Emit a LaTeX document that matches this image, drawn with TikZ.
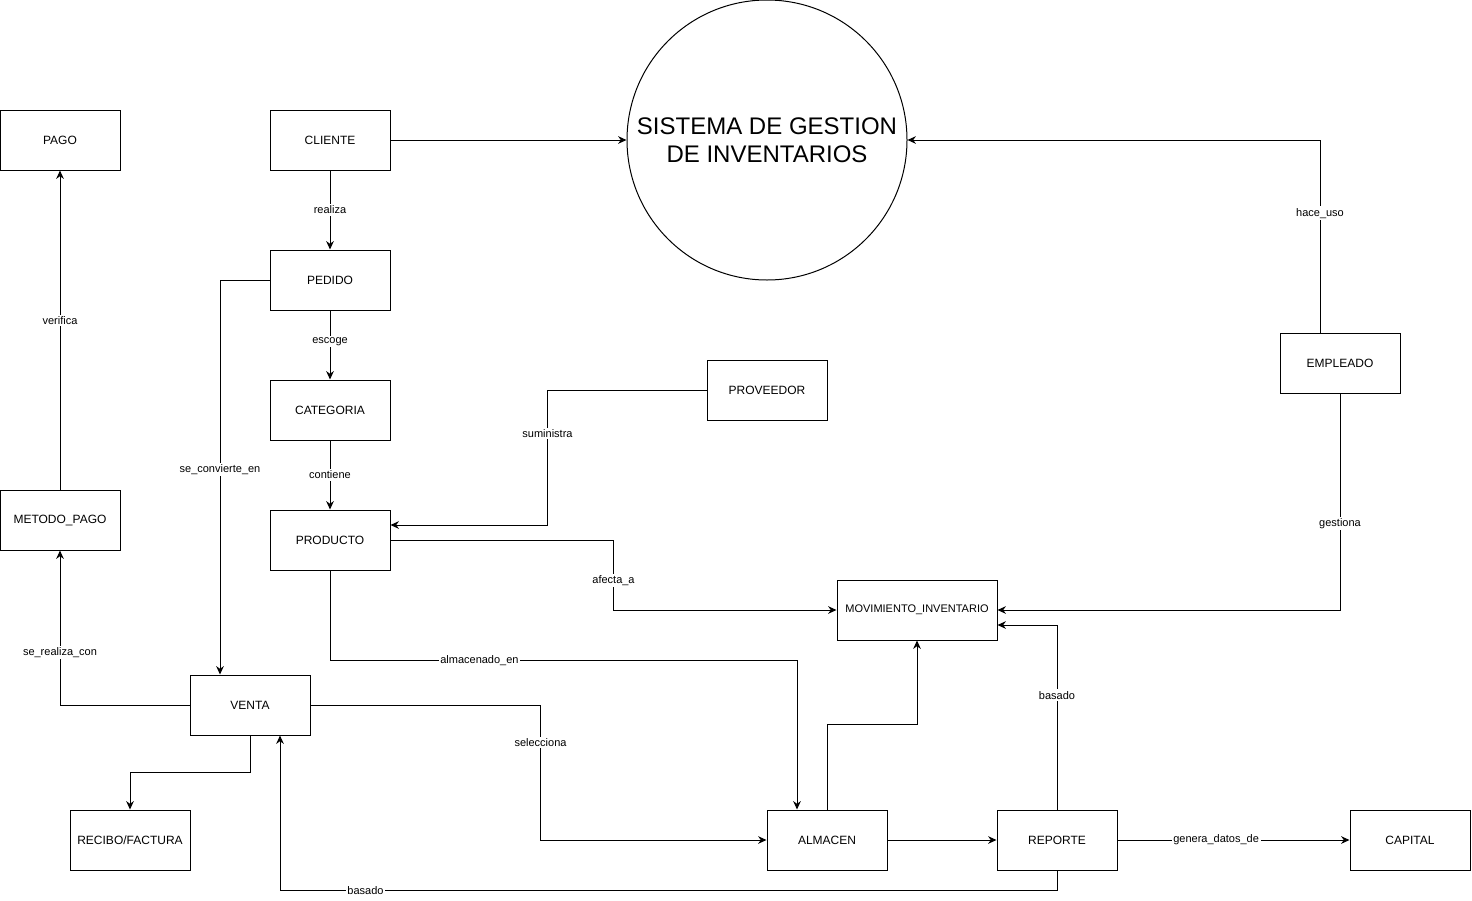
\documentclass[tikz,border=0pt]{standalone}
\usepackage{fontspec}
\setmainfont{Liberation Sans}
\usetikzlibrary{arrows.meta,positioning,calc}

\begin{document}
\begin{tikzpicture}[
  x=0.5pt, y=-0.5pt, line width=.5pt, draw=black, text=black,
  ent/.style={draw, fill=white, minimum width=60pt, minimum height=30pt,
    inner sep=1pt, font=\fontsize{6}{7}\selectfont},
  rel/.style={draw, line width=.5pt, -{Stealth[length=4.2pt,width=3.8pt]}},
  lbl/.style={fill=white, inner sep=.8pt, font=\fontsize{5.5}{6.5}\selectfont},
]
  \useasboundingbox (0,0) rectangle (1472,900);

  % Central system.
  \node[circle, draw, minimum size=140pt, inner sep=0pt, align=center,
    font=\fontsize{12}{14}\selectfont] (sis) at (767,140)
    {SISTEMA DE GESTION\\DE INVENTARIOS};

  % Entities, placed on the pixel grid of the sketch.
  \node[ent] (pag) at (60,140) {PAGO};
  \node[ent] (cli) at (330,140) {CLIENTE};
  \node[ent] (ped) at (330,280) {PEDIDO};
  \node[ent] (cat) at (330,410) {CATEGORIA};
  \node[ent] (pro) at (330,540) {PRODUCTO};
  \node[ent] (prv) at (767,390) {PROVEEDOR};
  \node[ent] (met) at (60,520) {METODO\_PAGO};
  \node[ent] (ven) at (250,705) {VENTA};
  \node[ent] (rec) at (130,840) {RECIBO/FACTURA};
  \node[ent] (alm) at (827,840) {ALMACEN};
  \node[ent] (rep) at (1057,840) {REPORTE};
  \node[ent] (cap) at (1410,840) {CAPITAL};
  \node[ent] (emp) at (1340,363) {EMPLEADO};
  \node[ent, minimum width=80pt, font=\fontsize{5.5}{6.5}\selectfont] (mov) at (917,610)
    {MOVIMIENTO\_INVENTARIO};

  % Left column: client, order, category, product.
  \draw[rel] (cli) -- (sis);
  \draw[rel] (cli) -- node[lbl]{realiza} (ped);
  \draw[rel] (ped) -- node[lbl, pos=.45]{escoge} (cat);
  \draw[rel] (cat) -- node[lbl]{contiene} (pro);
  \draw[rel] (ped.west) -| node[lbl, pos=.74]{se\_convierte\_en} ($(ven.north)+(-30,0)$);
  \draw[rel] (met) -- node[lbl, pos=.53]{verifica} (pag);
  \draw[rel] (ven.west) -| node[lbl, pos=.67]{se\_realiza\_con} (met.south);
  \draw[rel] (ven.south) -- ++(0,37) -| (rec.north);

  % Supplier and stock movements.
  \draw[rel] (prv.west) -- ++(-159,0) |- node[lbl, pos=.16]{suministra} ($(pro.east)+(0,-15)$);
  \draw[rel] (pro.east) -- ++(223,0) |- node[lbl, pos=.29]{afecta\_a} (mov.west);
  \draw[rel] (pro.south) -- ++(0,90) -| node[lbl, pos=.16]{almacenado\_en} ($(alm.north)+(-30,0)$);
  \draw[rel] (ven.east) -- ++(230,0) |- node[lbl, pos=.14]{selecciona} (alm.west);
  \draw[rel] (alm.north) -- ++(0,-85) -| (mov.south);
  \draw[rel] (alm) -- (rep);

  % Employee and reports.
  \draw[rel] ($(emp.north)+(-20,0)$) |- node[lbl, pos=.31]{hace\_uso} (sis.east);
  \draw[rel] (emp.south) |- node[lbl, pos=.3]{gestiona} (mov.east);
  \draw[rel] (rep.north) |- node[lbl, pos=.31]{basado} ($(mov.east)+(0,15)$);
  \draw[rel] (rep.south) -- ++(0,20) -| node[lbl, pos=.445]{basado} ($(ven.south)+(30,0)$);
  \draw[rel] (rep) -- node[lbl, pos=.425]{genera\_datos\_de} (cap);
\end{tikzpicture}
\end{document}
